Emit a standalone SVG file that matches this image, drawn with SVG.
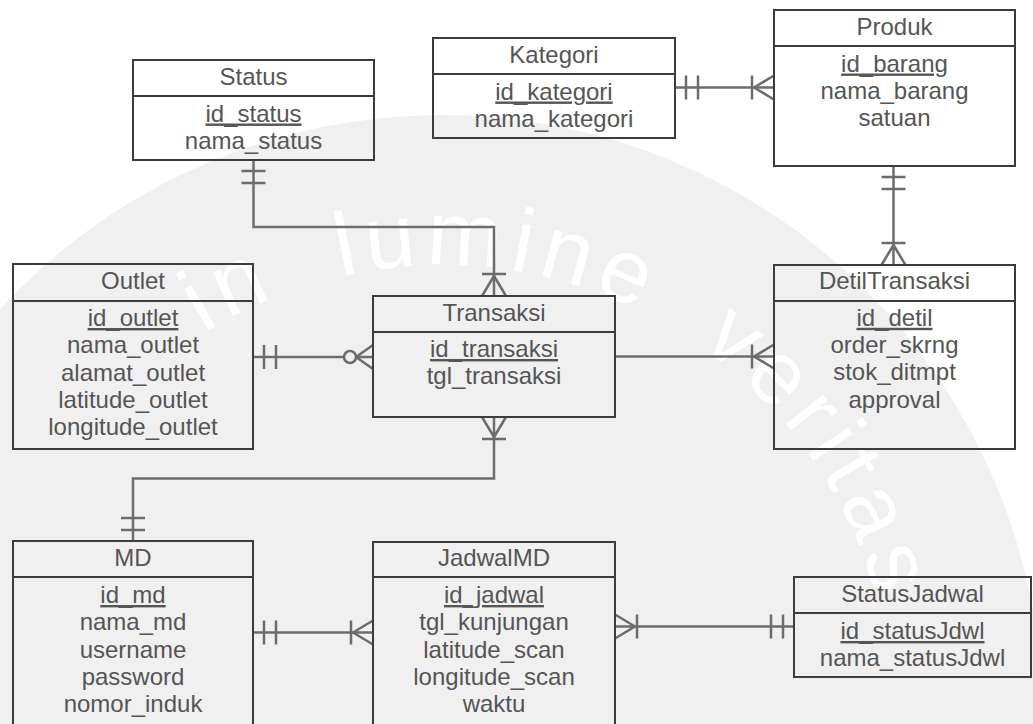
<svg xmlns="http://www.w3.org/2000/svg" xmlns:xlink="http://www.w3.org/1999/xlink" width="1033" height="724" viewBox="0 0 1033 724">
  <style>
    .bg { fill: #ffffff; }
    .seal { fill: #f0f0f0; }
    .motto { font-family: "Liberation Sans", Arial, sans-serif; font-size: 90px; fill: #ffffff; letter-spacing: 8px; }
    .box { fill: none; stroke: #3c3c3c; stroke-width: 2; }
    .t { font-family: "Liberation Sans", Arial, sans-serif; font-size: 24px; fill: #555555; text-anchor: middle; }
    .pk { text-decoration: underline; }
    .link { fill: none; stroke: #6c6c6c; stroke-width: 2.5; }
    .sym { fill: none; stroke: #6c6c6c; stroke-width: 2.5; }
  </style>
  <defs>
    <!-- cardinality ends: entity edge at origin, connector leaving along +x -->
    <g id="one"><path d="M11,-12 V12 M23,-12 V12"/></g>
    <g id="many"><path d="M22,-12 V12 M20,0 L0,-12 M20,0 L0,12"/></g>
    <g id="zeroMany"><path d="M17,0 L0,-12 M17,0 L0,12"/><circle cx="23" cy="0" r="6" fill="#f0f0f0"/></g>
    <!-- baseline arc of the seal motto (centre 442,715, radius 450) -->
    <path id="mottoArc" d="M203.5,333.4 A450,450 0 0 1 885.2,636.9"/>
  </defs>

  <!-- background seal -->
  <rect class="bg" x="0" y="0" width="1033" height="724"/>
  <g id="seal">
    <circle class="seal" cx="442" cy="715" r="600"/>
    <text class="motto"><textPath xlink:href="#mottoArc" href="#mottoArc" startOffset="0">in</textPath></text>
    <text class="motto"><textPath xlink:href="#mottoArc" href="#mottoArc" startOffset="149">lumine</textPath></text>
    <text class="motto"><textPath xlink:href="#mottoArc" href="#mottoArc" startOffset="525">veritas</textPath></text>
  </g>

  <!-- relationships -->
  <g id="connectors">
    <path class="link" d="M253.5,160 V227 H494 V296"/>
    <use class="sym" href="#one" xlink:href="#one" transform="translate(253.5,160) rotate(90)"/>
    <use class="sym" href="#many" xlink:href="#many" transform="translate(494,296) rotate(-90)"/>

    <path class="link" d="M675,87.5 H774"/>
    <use class="sym" href="#one" xlink:href="#one" transform="translate(675,87.5)"/>
    <use class="sym" href="#many" xlink:href="#many" transform="translate(774,87.5) rotate(180)"/>

    <path class="link" d="M893.5,166 V265"/>
    <use class="sym" href="#one" xlink:href="#one" transform="translate(893.5,166) rotate(90)"/>
    <use class="sym" href="#many" xlink:href="#many" transform="translate(893.5,265) rotate(-90)"/>

    <path class="link" d="M253,357 H373"/>
    <use class="sym" href="#one" xlink:href="#one" transform="translate(253,357)"/>
    <use class="sym" href="#zeroMany" xlink:href="#zeroMany" transform="translate(373,357) rotate(180)"/>

    <path class="link" d="M615,356.5 H774"/>
    <use class="sym" href="#many" xlink:href="#many" transform="translate(774,356.5) rotate(180)"/>

    <path class="link" d="M494,417 V478.5 H133 V541"/>
    <use class="sym" href="#many" xlink:href="#many" transform="translate(494,417) rotate(90)"/>
    <use class="sym" href="#one" xlink:href="#one" transform="translate(133,541) rotate(-90)"/>

    <path class="link" d="M253,632.5 H373"/>
    <use class="sym" href="#one" xlink:href="#one" transform="translate(253,632.5)"/>
    <use class="sym" href="#many" xlink:href="#many" transform="translate(373,632.5) rotate(180)"/>

    <path class="link" d="M615,626.5 H794"/>
    <use class="sym" href="#many" xlink:href="#many" transform="translate(615,626.5)"/>
    <use class="sym" href="#one" xlink:href="#one" transform="translate(794,626.5) rotate(180)"/>
  </g>

  <!-- entities -->
  <g id="status">
    <rect class="box" x="133" y="60" width="241" height="100"/>
    <line class="box" x1="133" y1="96" x2="374" y2="96"/>
    <text class="t" x="253.5" y="84.5">Status</text>
    <text class="t pk" x="253.5" y="121.5">id_status</text>
    <text class="t" x="253.5" y="148.8">nama_status</text>
  </g>

  <g id="kategori">
    <rect class="box" x="433" y="38" width="242" height="100"/>
    <line class="box" x1="433" y1="74" x2="675" y2="74"/>
    <text class="t" x="554" y="62.5">Kategori</text>
    <text class="t pk" x="554" y="99.5">id_kategori</text>
    <text class="t" x="554" y="126.8">nama_kategori</text>
  </g>

  <g id="produk">
    <rect class="box" x="774" y="10" width="241" height="156"/>
    <line class="box" x1="774" y1="46" x2="1015" y2="46"/>
    <text class="t" x="894.5" y="34.5">Produk</text>
    <text class="t pk" x="894.5" y="71.5">id_barang</text>
    <text class="t" x="894.5" y="98.8">nama_barang</text>
    <text class="t" x="894.5" y="126.1">satuan</text>
  </g>

  <g id="outlet">
    <rect class="box" x="13" y="264" width="240" height="185"/>
    <line class="box" x1="13" y1="301" x2="253" y2="301"/>
    <text class="t" x="133" y="288.5">Outlet</text>
    <text class="t pk" x="133" y="326">id_outlet</text>
    <text class="t" x="133" y="353.3">nama_outlet</text>
    <text class="t" x="133" y="380.6">alamat_outlet</text>
    <text class="t" x="133" y="407.9">latitude_outlet</text>
    <text class="t" x="133" y="435.2">longitude_outlet</text>
  </g>

  <g id="transaksi">
    <rect class="box" x="373" y="296" width="242" height="121"/>
    <line class="box" x1="373" y1="332" x2="615" y2="332"/>
    <text class="t" x="494" y="320.8">Transaksi</text>
    <text class="t pk" x="494" y="357">id_transaksi</text>
    <text class="t" x="494" y="384.3">tgl_transaksi</text>
  </g>

  <g id="detiltransaksi">
    <rect class="box" x="774" y="265" width="241" height="184"/>
    <line class="box" x1="774" y1="301" x2="1015" y2="301"/>
    <text class="t" x="894.5" y="289">DetilTransaksi</text>
    <text class="t pk" x="894.5" y="325.8">id_detil</text>
    <text class="t" x="894.5" y="353.1">order_skrng</text>
    <text class="t" x="894.5" y="380.4">stok_ditmpt</text>
    <text class="t" x="894.5" y="407.7">approval</text>
  </g>

  <g id="md">
    <rect class="box" x="13" y="541" width="240" height="200"/>
    <line class="box" x1="13" y1="577" x2="253" y2="577"/>
    <text class="t" x="133" y="565.5">MD</text>
    <text class="t pk" x="133" y="603">id_md</text>
    <text class="t" x="133" y="630.3">nama_md</text>
    <text class="t" x="133" y="657.6">username</text>
    <text class="t" x="133" y="684.9">password</text>
    <text class="t" x="133" y="712.2">nomor_induk</text>
  </g>

  <g id="jadwalmd">
    <rect class="box" x="373" y="542" width="242" height="200"/>
    <line class="box" x1="373" y1="577" x2="615" y2="577"/>
    <text class="t" x="494" y="566">JadwalMD</text>
    <text class="t pk" x="494" y="603">id_jadwal</text>
    <text class="t" x="494" y="630.3">tgl_kunjungan</text>
    <text class="t" x="494" y="657.6">latitude_scan</text>
    <text class="t" x="494" y="684.9">longitude_scan</text>
    <text class="t" x="494" y="712.2">waktu</text>
  </g>

  <g id="statusjadwal">
    <rect class="box" x="794" y="577" width="237" height="100"/>
    <line class="box" x1="794" y1="613" x2="1031" y2="613"/>
    <text class="t" x="912.5" y="601.5">StatusJadwal</text>
    <text class="t pk" x="912.5" y="639">id_statusJdwl</text>
    <text class="t" x="912.5" y="666">nama_statusJdwl</text>
  </g>
</svg>
